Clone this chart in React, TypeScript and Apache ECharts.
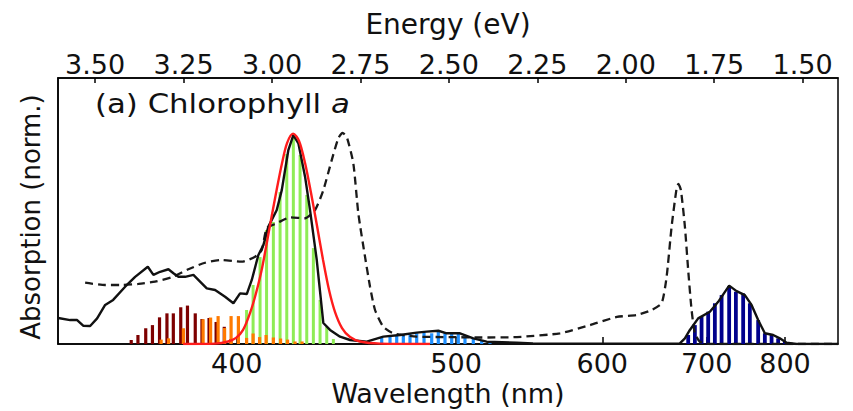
import React, { useEffect, useRef } from "react";
import * as echarts from "echarts";

// x values are photon energies (eV); y values are normalised absorption
const energyTicks = [3.5, 3.25, 3.0, 2.75, 2.5, 2.25, 2.0, 1.75, 1.5];
const wavelengthTicks = [400, 500, 600, 700, 800];

const measured: [number, number][] = [
  [3.6045, 0.124], [3.5706, 0.114], [3.5509, 0.114], [3.5339, 0.087], [3.5141, 0.086],
  [3.4944, 0.122], [3.4717, 0.186], [3.4491, 0.21], [3.4152, 0.273], [3.387, 0.32],
  [3.3511, 0.368], [3.3353, 0.329], [3.3163, 0.344], [3.2929, 0.356], [3.2787, 0.337],
  [3.2646, 0.32], [3.2457, 0.32], [3.2222, 0.329], [3.1985, 0.289], [3.1844, 0.265],
  [3.1609, 0.257], [3.1327, 0.225], [3.1092, 0.194], [3.0903, 0.241], [3.0713, 0.238],
  [3.0572, 0.305], [3.0386, 0.424], [3.0244, 0.471], [3.0103, 0.559], [2.9866, 0.638],
  [2.9724, 0.733], [2.9538, 0.924], [2.9397, 0.995], [2.9255, 0.956], [2.9066, 0.797],
  [2.8925, 0.638], [2.8735, 0.4], [2.8549, 0.1], [2.836, 0.067], [2.8077, 0.035],
  [2.7794, 0.019], [2.7323, 0.011], [2.6853, 0.035], [2.6382, 0.043], [2.591, 0.054],
  [2.5627, 0.059], [2.5299, 0.063], [2.5062, 0.051], [2.4686, 0.051], [2.431, 0.027],
  [2.3932, 0.011], [2.3084, 0.006], [2.2623, 0.003], [2.073, 0.001], [1.847, 0.003],
  [1.8328, 0.027], [1.8187, 0.067], [1.7953, 0.122], [1.7622, 0.154], [1.7387, 0.201],
  [1.7077, 0.278], [1.6867, 0.252], [1.6633, 0.233], [1.6444, 0.186], [1.6257, 0.114],
  [1.6068, 0.051], [1.5833, 0.043], [1.5644, 0.027], [1.5455, 0.006], [1.5172, 0.0],
  [1.4005, 0.0],
];

const reference: [number, number][] = [
  [3.5283, 0.292], [3.4717, 0.281], [3.4246, 0.281], [3.3776, 0.286], [3.3305, 0.297],
  [3.2833, 0.318], [3.2364, 0.356], [3.1892, 0.387], [3.142, 0.4], [3.0855, 0.392],
  [3.0479, 0.416], [3.029, 0.448], [3.0148, 0.551], [2.9866, 0.575], [2.949, 0.603],
  [2.9066, 0.599], [2.8783, 0.638], [2.8549, 0.733], [2.8312, 0.876], [2.8125, 0.98],
  [2.8006, 1.005], [2.7888, 0.987], [2.7701, 0.86], [2.756, 0.622], [2.7371, 0.416],
  [2.7229, 0.273], [2.7088, 0.162], [2.6853, 0.082], [2.6571, 0.051], [2.591, 0.035],
  [2.4969, 0.033], [2.4121, 0.031], [2.3076, 0.033], [2.186, 0.051], [2.1013, 0.09],
  [2.025, 0.129], [1.9693, 0.138], [1.9269, 0.162], [1.8987, 0.194], [1.8845, 0.32],
  [1.8704, 0.559], [1.8563, 0.741], [1.8512, 0.762], [1.8441, 0.733], [1.8328, 0.559],
  [1.8235, 0.352], [1.8139, 0.162], [1.8046, 0.051], [1.7905, 0.011], [1.7622, 0.0],
  [1.4005, 0.0],
];

const fitted: [number, number][] = [
  [3.2513, 0.0], [3.1609, 0.002], [3.1242, 0.012], [3.1016, 0.029], [3.0818, 0.067],
  [3.062, 0.148], [3.0451, 0.243], [3.0281, 0.362], [3.0055, 0.567], [2.9886, 0.719],
  [2.9716, 0.862], [2.9575, 0.957], [2.9405, 1.002], [2.9236, 0.967], [2.9066, 0.862],
  [2.8897, 0.719], [2.8727, 0.562], [2.8557, 0.4], [2.8388, 0.257], [2.8218, 0.152],
  [2.8021, 0.076], [2.7794, 0.033], [2.7512, 0.012], [2.6947, 0.002], [2.5534, 0.0],
];

const sticksDarkRed: [number, number][] = [
  [3.398, 0.019], [3.379, 0.043], [3.357, 0.075], [3.338, 0.09], [3.318, 0.127],
  [3.297, 0.146], [3.279, 0.146], [3.258, 0.175], [3.239, 0.183], [3.217, 0.146],
  [3.198, 0.119], [3.178, 0.124], [3.158, 0.105], [3.135, 0.082], [3.116, 0.024],
];

const sticksOrange: [number, number][] = [
  [3.3135, 0.021], [3.2923, 0.027], [3.2505, 0.075], [3.1948, 0.118], [3.1736, 0.126],
  [3.1524, 0.133], [3.1341, 0.076], [3.1157, 0.133], [3.0951, 0.133], [3.0719, 0.029],
  [3.0535, 0.05], [3.0352, 0.033], [3.0168, 0.043], [2.9962, 0.031], [2.9758, 0.026],
  [2.9561, 0.021], [2.9349, 0.012], [2.9151, 0.012],
];

const sticksGreen: [number, number][] = [
  [3.0719, 0.162], [3.0535, 0.281], [3.0338, 0.414], [3.0154, 0.543], [2.9962, 0.581],
  [2.9772, 0.724], [2.9583, 0.905], [2.9397, 0.986], [2.9207, 0.9], [2.9018, 0.71],
  [2.8831, 0.457], [2.8642, 0.21], [2.8453, 0.081], [2.8266, 0.024],
];

const sticksBlue: [number, number][] = [
  [2.6899, 0.029], [2.6664, 0.035], [2.6475, 0.038], [2.6288, 0.043], [2.6099, 0.048],
  [2.591, 0.051], [2.5703, 0.054], [2.5486, 0.051], [2.5299, 0.059], [2.511, 0.051],
  [2.4921, 0.048], [2.4734, 0.051], [2.4545, 0.038], [2.431, 0.029], [2.4073, 0.019],
  [2.3838, 0.011],
];

const sticksNavy: [number, number][] = [
  [1.8235, 0.043], [1.8046, 0.09], [1.7857, 0.13], [1.767, 0.154], [1.7481, 0.194],
  [1.7291, 0.233], [1.7077, 0.276], [1.6887, 0.249], [1.6681, 0.241], [1.6492, 0.194],
  [1.6257, 0.114], [1.6068, 0.051], [1.5878, 0.043], [1.5692, 0.027], [1.5503, 0.011],
];

const HC = 1239.84;
const FONT = "DejaVu Sans";

function stickSeries(name: string, data: [number, number][], color: string, width: number, z: number) {
  return {
    type: "custom",
    name,
    xAxisIndex: 0,
    yAxisIndex: 0,
    data,
    z,
    silent: true,
    renderItem: (_p: any, api: any) => {
      const base = api.coord([api.value(0), 0]);
      const top = api.coord([api.value(0), api.value(1)]);
      return {
        type: "rect",
        shape: { x: base[0] - width / 2, y: top[1], width, height: base[1] - top[1] },
        style: { fill: color },
      };
    },
  };
}

export default function App() {
  const ref = useRef<HTMLDivElement>(null);
  useEffect(() => {
    document.body.style.margin = "0";
    if (!ref.current) return;
    const chart = echarts.init(ref.current, null, { renderer: "svg" });
    const wlE = wavelengthTicks.map((w) => HC / w);
    const axisCommon = {
      type: "value",
      min: 1.4,
      max: 3.605,
      inverse: true,
      splitLine: { show: false },
      axisLine: { show: true, lineStyle: { color: "#000", width: 1.5 } },
      nameMoveOverlap: false,
    };
    chart.setOption({
      animation: false,
      grid: {
        left: 58, right: 15, top: 78, bottom: 67,
        containLabel: false,
        outerBoundsMode: "none",
        show: true, borderColor: "#000", borderWidth: 1.5, backgroundColor: "transparent",
      },
      xAxis: [
        {
          ...axisCommon,
          position: "bottom",
          axisTick: { show: true, inside: true, length: 7, customValues: wlE, lineStyle: { color: "#000", width: 1.5 } },
          axisLabel: {
            customValues: wlE,
            formatter: (v: number) => String(Math.round(HC / v)),
            fontFamily: FONT, fontSize: 27, color: "#111", margin: 6,
          },
          name: "Wavelength (nm)",
          nameLocation: "middle",
          nameGap: 36,
          nameTextStyle: { fontFamily: FONT, fontSize: 27, color: "#111" },
        },
        {
          ...axisCommon,
          position: "top",
          axisTick: { show: true, inside: true, length: 5, customValues: energyTicks, lineStyle: { color: "#000", width: 1.5 } },
          axisLabel: {
            customValues: energyTicks,
            formatter: (v: number) => v.toFixed(2),
            fontFamily: FONT, fontSize: 27, color: "#111", margin: 0,
          },
          name: "Energy (eV)",
          nameLocation: "middle",
          nameGap: 40,
          nameTextStyle: { fontFamily: FONT, fontSize: 28, color: "#111" },
        },
      ],
      yAxis: {
        type: "value",
        min: 0,
        max: 1.267,
        splitLine: { show: false },
        axisTick: { show: false },
        axisLabel: { show: false },
        axisLine: { show: true, lineStyle: { color: "#000", width: 1.5 } },
        name: "Absorption (norm.)",
        nameLocation: "middle",
        nameGap: 14,
        nameMoveOverlap: false,
        nameTextStyle: { fontFamily: FONT, fontSize: 26, color: "#111", padding: [0, 12, 0, 0] },
      },
      graphic: [
        {
          type: "text",
          x: 95,
          y: 104,
          scaleX: 1.14,
          style: {
            text: "(a) Chlorophyll {i|a}",
            fontFamily: FONT,
            fontSize: 27,
            fill: "#111",
            verticalAlign: "middle",
            align: "left",
            rich: { i: { fontFamily: FONT, fontSize: 27, fontStyle: "italic", fill: "#111" } },
          },
        },
      ],
      series: [
        stickSeries("dark red", sticksDarkRed, "#7d0000", 3.2, 1),
        stickSeries("green", sticksGreen, "#8fec55", 3, 1),
        stickSeries("orange", sticksOrange, "#ff7a00", 3.2, 2),
        stickSeries("blue", sticksBlue, "#1e8fff", 3.2, 1),
        stickSeries("navy", sticksNavy, "#00008c", 3.8, 1),
        {
          type: "line", name: "reference", data: reference, xAxisIndex: 0, yAxisIndex: 0,
          showSymbol: false, symbol: "none", smooth: 0.2, z: 3,
          lineStyle: { color: "#1a1a1a", width: 2.3, type: [8, 5] },
        },
        {
          type: "line", name: "measured", data: measured, xAxisIndex: 0, yAxisIndex: 0,
          showSymbol: false, symbol: "none", z: 4,
          lineStyle: { color: "#111", width: 2.4 },
        },
        {
          type: "line", name: "fit", data: fitted, xAxisIndex: 0, yAxisIndex: 0,
          showSymbol: false, symbol: "none", smooth: 0.3, z: 5,
          lineStyle: { color: "#ff1c1c", width: 2.4 },
        },
      ],
    });
    return () => chart.dispose();
  }, []);
  return <div ref={ref} style={{ width: 853, height: 411 }} />;
}
